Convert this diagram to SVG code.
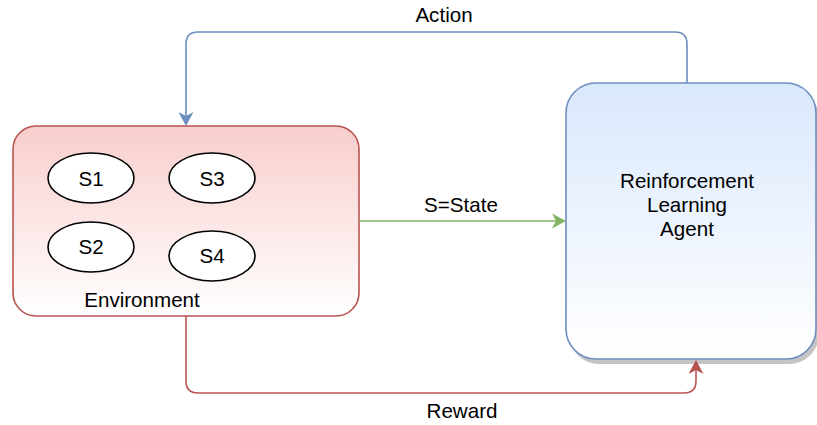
<svg xmlns="http://www.w3.org/2000/svg" width="817" height="425" viewBox="0 0 817 425">
  <style>
    text { font-family: "Liberation Sans", Arial, Helvetica, sans-serif; font-size: 20.6px; fill: #000; text-anchor: middle; }
    .state { fill: #fff; stroke: #000; stroke-width: 1.6; }
    .edge { fill: none; stroke-width: 1.6; }
  </style>
  <defs>
    <linearGradient id="envFill" x1="0" y1="0" x2="0" y2="1">
      <stop offset="0" stop-color="#f8cecc"/>
      <stop offset="1" stop-color="#ffffff"/>
    </linearGradient>
    <linearGradient id="agentFill" x1="0" y1="0" x2="0" y2="1">
      <stop offset="0" stop-color="#dae8fc"/>
      <stop offset="1" stop-color="#ffffff"/>
    </linearGradient>
    <marker id="arrowBlue" markerUnits="userSpaceOnUse" viewBox="0 0 15 15" markerWidth="15" markerHeight="15" refX="4" refY="7.5" orient="auto">
      <path d="M14,7.5 L0,0 L4,7.5 L0,15 Z" fill="#6c8ebf"/>
    </marker>
    <marker id="arrowGreen" markerUnits="userSpaceOnUse" viewBox="0 0 15 15" markerWidth="15" markerHeight="15" refX="4" refY="7.5" orient="auto">
      <path d="M14,7.5 L0,0 L4,7.5 L0,15 Z" fill="#82b366"/>
    </marker>
    <marker id="arrowRed" markerUnits="userSpaceOnUse" viewBox="0 0 15 15" markerWidth="15" markerHeight="15" refX="4" refY="7.5" orient="auto">
      <path d="M14,7.5 L0,0 L4,7.5 L0,15 Z" fill="#b85450"/>
    </marker>
  </defs>

  <!-- Environment with its states -->
  <g id="environment">
    <rect x="13" y="126" width="346" height="190" rx="23" ry="23" fill="url(#envFill)" stroke="#b85450" stroke-width="1.6"/>
    <text x="142" y="307">Environment</text>
  </g>
  <g id="s1">
    <ellipse class="state" cx="91" cy="178" rx="43" ry="25"/>
    <text x="91" y="186">S1</text>
  </g>
  <g id="s3">
    <ellipse class="state" cx="212" cy="178" rx="43" ry="25"/>
    <text x="212" y="186">S3</text>
  </g>
  <g id="s2">
    <ellipse class="state" cx="91" cy="247" rx="43" ry="25"/>
    <text x="91" y="254">S2</text>
  </g>
  <g id="s4">
    <ellipse class="state" cx="212" cy="256" rx="43" ry="25"/>
    <text x="212" y="263">S4</text>
  </g>

  <!-- Agent, with a drop shadow behind it -->
  <g id="agent">
    <rect x="569" y="88" width="250" height="276" rx="30" ry="30" fill="#c4c4c4"/>
    <rect x="566" y="83" width="250" height="276" rx="30" ry="30" fill="url(#agentFill)" stroke="#6c8ebf" stroke-width="1.6"/>
    <text x="687" y="188">Reinforcement</text>
    <text x="687" y="212">Learning</text>
    <text x="687" y="236">Agent</text>
  </g>

  <!-- Connectors -->
  <g id="connectors">
    <path class="edge" stroke="#6c8ebf" marker-end="url(#arrowBlue)" d="M687,83 V44 Q687,32 675,32 H198 Q186,32 186,44 V116"/>
    <text x="444" y="22">Action</text>
    <path class="edge" stroke="#82b366" marker-end="url(#arrowGreen)" d="M359,221 H556"/>
    <text x="461" y="212">S=State</text>
    <path class="edge" stroke="#b85450" marker-end="url(#arrowRed)" d="M186,316 V381 Q186,393 198,393 H684 Q696,393 696,381 V370"/>
    <text x="462" y="418">Reward</text>
  </g>
</svg>
